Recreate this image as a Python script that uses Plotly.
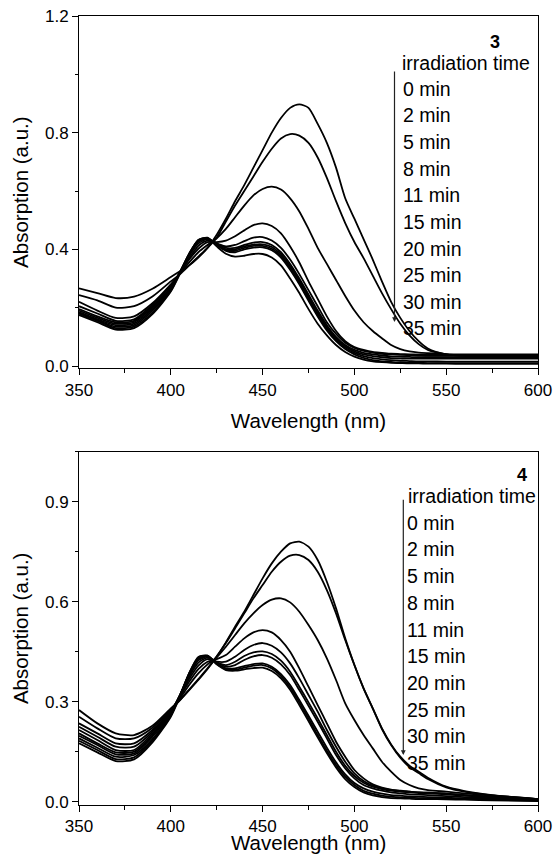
import plotly.graph_objects as go

# ---------------- data ----------------
wavelength = [350, 360, 370, 380, 390, 400, 405, 410, 415, 420, 425, 430, 435, 440, 445,
              450, 455, 460, 465, 470, 475, 480, 485, 490, 495, 500, 505, 510, 515, 520,
              525, 530, 535, 540, 550, 560, 575, 600]

time_labels = ["0 min", "2 min", "5 min", "8 min", "11 min", "15 min",
               "20 min", "25 min", "30 min", "35 min"]

# compound 3
c3_0min = [0.266, 0.250, 0.233, 0.238, 0.265, 0.305, 0.325, 0.345, 0.372, 0.405, 0.450, 0.505, 0.565, 0.620, 0.680,
           0.740, 0.800, 0.850, 0.885, 0.897, 0.885, 0.830, 0.765, 0.680, 0.575, 0.505, 0.435, 0.365, 0.290, 0.220,
           0.165, 0.120, 0.085, 0.060, 0.040, 0.035, 0.035, 0.035]
c3_2min = [0.243, 0.225, 0.200, 0.205, 0.238, 0.290, 0.315, 0.345, 0.375, 0.405, 0.440, 0.495, 0.550, 0.600, 0.650,
           0.700, 0.745, 0.780, 0.795, 0.790, 0.765, 0.715, 0.645, 0.565, 0.490, 0.425, 0.370, 0.310, 0.250, 0.195,
           0.145, 0.105, 0.075, 0.055, 0.040, 0.035, 0.033, 0.030]
c3_5min = [0.220, 0.190, 0.165, 0.170, 0.215, 0.280, 0.318, 0.355, 0.390, 0.415, 0.438, 0.470, 0.510, 0.550, 0.585,
           0.607, 0.615, 0.605, 0.575, 0.530, 0.470, 0.405, 0.350, 0.295, 0.240, 0.190, 0.150, 0.120, 0.095, 0.072,
           0.058, 0.050, 0.046, 0.044, 0.041, 0.040, 0.040, 0.040]
c3_8min = [0.205, 0.180, 0.155, 0.160, 0.210, 0.275, 0.320, 0.365, 0.402, 0.425, 0.425, 0.430, 0.445, 0.465, 0.483,
           0.489, 0.480, 0.455, 0.410, 0.355, 0.290, 0.230, 0.170, 0.120, 0.085, 0.065, 0.055, 0.048, 0.045, 0.042,
           0.041, 0.040, 0.039, 0.038, 0.038, 0.038, 0.038, 0.038]
c3_11min = [0.195, 0.170, 0.150, 0.155, 0.205, 0.270, 0.320, 0.370, 0.412, 0.430, 0.420, 0.410, 0.415, 0.428, 0.440,
            0.442, 0.430, 0.405, 0.365, 0.315, 0.260, 0.205, 0.150, 0.110, 0.080, 0.062, 0.052, 0.046, 0.042, 0.040,
            0.038, 0.037, 0.036, 0.035, 0.035, 0.035, 0.035, 0.035]
c3_15min = [0.190, 0.165, 0.145, 0.150, 0.200, 0.268, 0.322, 0.378, 0.420, 0.435, 0.420, 0.405, 0.405, 0.415, 0.423,
            0.425, 0.415, 0.390, 0.350, 0.300, 0.245, 0.190, 0.140, 0.100, 0.072, 0.055, 0.045, 0.040, 0.036, 0.033,
            0.032, 0.031, 0.030, 0.030, 0.030, 0.030, 0.030, 0.030]
c3_20min = [0.185, 0.160, 0.140, 0.145, 0.195, 0.265, 0.322, 0.382, 0.426, 0.437, 0.418, 0.400, 0.400, 0.410, 0.416,
            0.417, 0.408, 0.383, 0.343, 0.293, 0.237, 0.183, 0.133, 0.095, 0.068, 0.050, 0.040, 0.034, 0.030, 0.027,
            0.026, 0.025, 0.025, 0.025, 0.025, 0.025, 0.025, 0.025]
c3_25min = [0.182, 0.157, 0.135, 0.140, 0.190, 0.262, 0.322, 0.385, 0.430, 0.438, 0.415, 0.397, 0.395, 0.405, 0.412,
            0.412, 0.402, 0.377, 0.337, 0.287, 0.231, 0.177, 0.128, 0.090, 0.063, 0.045, 0.034, 0.027, 0.023, 0.020,
            0.018, 0.017, 0.016, 0.016, 0.015, 0.015, 0.015, 0.015]
c3_30min = [0.180, 0.155, 0.130, 0.135, 0.183, 0.258, 0.320, 0.385, 0.432, 0.440, 0.415, 0.395, 0.390, 0.400, 0.406,
            0.407, 0.397, 0.372, 0.330, 0.280, 0.224, 0.170, 0.122, 0.085, 0.058, 0.040, 0.028, 0.020, 0.016, 0.014,
            0.012, 0.011, 0.011, 0.010, 0.010, 0.010, 0.010, 0.010]
c3_35min = [0.175, 0.150, 0.125, 0.130, 0.178, 0.255, 0.316, 0.382, 0.432, 0.438, 0.410, 0.385, 0.375, 0.378, 0.384,
            0.384, 0.372, 0.345, 0.300, 0.250, 0.195, 0.145, 0.105, 0.072, 0.048, 0.032, 0.022, 0.016, 0.013, 0.011,
            0.010, 0.009, 0.009, 0.008, 0.008, 0.007, 0.007, 0.007]

# compound 4
c4_0min = [0.275, 0.235, 0.205, 0.200, 0.228, 0.280, 0.305, 0.335, 0.365, 0.398, 0.435, 0.478, 0.525, 0.570, 0.620,
           0.670, 0.715, 0.750, 0.775, 0.780, 0.765, 0.725, 0.660, 0.580, 0.490, 0.410, 0.340, 0.280, 0.220, 0.172,
           0.135, 0.108, 0.090, 0.072, 0.045, 0.032, 0.020, 0.008]
c4_2min = [0.255, 0.220, 0.190, 0.190, 0.222, 0.276, 0.305, 0.336, 0.368, 0.400, 0.436, 0.476, 0.520, 0.565, 0.610,
           0.650, 0.690, 0.720, 0.738, 0.740, 0.725, 0.690, 0.635, 0.565, 0.485, 0.410, 0.340, 0.280, 0.218, 0.170,
           0.132, 0.104, 0.086, 0.068, 0.043, 0.030, 0.019, 0.008]
c4_5min = [0.235, 0.205, 0.175, 0.175, 0.215, 0.273, 0.310, 0.350, 0.385, 0.412, 0.433, 0.465, 0.500, 0.535, 0.565,
           0.590, 0.606, 0.610, 0.598, 0.570, 0.530, 0.485, 0.430, 0.365, 0.295, 0.245, 0.200, 0.160, 0.120, 0.090,
           0.065, 0.050, 0.040, 0.035, 0.030, 0.025, 0.018, 0.008]
c4_8min = [0.225, 0.195, 0.165, 0.165, 0.210, 0.272, 0.315, 0.360, 0.398, 0.420, 0.428, 0.440, 0.465, 0.490, 0.508,
           0.515, 0.508, 0.485, 0.450, 0.400, 0.345, 0.290, 0.235, 0.180, 0.135, 0.095, 0.070, 0.052, 0.042, 0.036,
           0.033, 0.030, 0.028, 0.027, 0.024, 0.020, 0.015, 0.007]
c4_11min = [0.215, 0.185, 0.155, 0.155, 0.205, 0.270, 0.318, 0.368, 0.408, 0.428, 0.420, 0.420, 0.435, 0.455, 0.470,
            0.476, 0.468, 0.448, 0.415, 0.370, 0.320, 0.270, 0.215, 0.165, 0.120, 0.085, 0.062, 0.048, 0.040, 0.035,
            0.032, 0.030, 0.028, 0.027, 0.024, 0.020, 0.014, 0.006]
c4_15min = [0.205, 0.175, 0.148, 0.150, 0.200, 0.268, 0.320, 0.375, 0.417, 0.432, 0.418, 0.410, 0.420, 0.437, 0.448,
            0.451, 0.443, 0.423, 0.390, 0.345, 0.298, 0.250, 0.200, 0.150, 0.108, 0.077, 0.057, 0.045, 0.038, 0.033,
            0.030, 0.028, 0.026, 0.025, 0.022, 0.018, 0.013, 0.006]
c4_20min = [0.198, 0.170, 0.142, 0.145, 0.195, 0.265, 0.320, 0.380, 0.424, 0.435, 0.418, 0.405, 0.410, 0.425, 0.436,
            0.440, 0.432, 0.412, 0.380, 0.335, 0.288, 0.240, 0.190, 0.140, 0.100, 0.070, 0.050, 0.040, 0.033, 0.028,
            0.025, 0.022, 0.021, 0.020, 0.017, 0.014, 0.010, 0.005]
c4_25min = [0.190, 0.162, 0.135, 0.140, 0.188, 0.262, 0.320, 0.384, 0.428, 0.437, 0.415, 0.400, 0.400, 0.407, 0.413,
            0.415, 0.405, 0.383, 0.350, 0.305, 0.258, 0.210, 0.162, 0.118, 0.082, 0.056, 0.040, 0.030, 0.024, 0.020,
            0.018, 0.016, 0.015, 0.014, 0.012, 0.010, 0.008, 0.004]
c4_30min = [0.183, 0.155, 0.128, 0.133, 0.183, 0.258, 0.318, 0.386, 0.432, 0.438, 0.413, 0.398, 0.396, 0.402, 0.408,
            0.410, 0.400, 0.377, 0.343, 0.298, 0.250, 0.200, 0.153, 0.110, 0.075, 0.050, 0.033, 0.024, 0.018, 0.015,
            0.013, 0.012, 0.011, 0.010, 0.009, 0.008, 0.006, 0.003]
c4_35min = [0.175, 0.148, 0.122, 0.127, 0.178, 0.255, 0.316, 0.385, 0.434, 0.438, 0.412, 0.395, 0.393, 0.397, 0.401,
            0.402, 0.392, 0.370, 0.336, 0.290, 0.242, 0.193, 0.146, 0.103, 0.068, 0.044, 0.028, 0.019, 0.014, 0.011,
            0.010, 0.009, 0.008, 0.008, 0.007, 0.006, 0.004, 0.002]

series3 = [c3_0min, c3_2min, c3_5min, c3_8min, c3_11min, c3_15min, c3_20min, c3_25min, c3_30min, c3_35min]
series4 = [c4_0min, c4_2min, c4_5min, c4_8min, c4_11min, c4_15min, c4_20min, c4_25min, c4_30min, c4_35min]

x_ticks = [350, 400, 450, 500, 550, 600]
y_ticks_top = [0.0, 0.4, 0.8, 1.2]
y_ticks_bottom = [0.0, 0.3, 0.6, 0.9]

# ---------------- layout geometry (pixels) ----------------
W, H = 555, 855
ML, MR, MT, MB = 79, 17, 16, 50
PW, PH = W - ML - MR, H - MT - MB


def px_x(px):
    return (px - ML) / PW


def px_y(py):
    return (H - MB - py) / PH


FONT = "Arial, Liberation Sans, Helvetica, sans-serif"
TITLE_SIZE = 20.5

fig = go.Figure()
for ys in series3:
    fig.add_trace(go.Scatter(x=wavelength, y=ys, mode="lines", xaxis="x", yaxis="y",
                             line=dict(color="black", width=1.8, shape="spline", smoothing=0.7),
                             showlegend=False, hoverinfo="skip"))
for ys in series4:
    fig.add_trace(go.Scatter(x=wavelength, y=ys, mode="lines", xaxis="x2", yaxis="y2",
                             line=dict(color="black", width=1.8, shape="spline", smoothing=0.7),
                             showlegend=False, hoverinfo="skip"))

axis_common = dict(showline=True, linecolor="black", linewidth=1, mirror=True,
                   ticks="outside", ticklen=6, tickwidth=1, tickcolor="black",
                   showgrid=False, zeroline=False, automargin=False,
                   tickfont=dict(family=FONT, size=17, color="black"))

xaxis_common = dict(axis_common, range=[350, 600], tickvals=x_ticks,
                    minor=dict(dtick=25, tick0=350, ticklen=3.5, ticks="outside", tickcolor="black", showgrid=False))

top_dom = [px_y(368.3), 1.0]
bot_dom = [0.0, px_y(451.7)]

fig.update_layout(
    width=W, height=H,
    margin=dict(l=ML, r=MR, t=MT, b=MB, pad=0, autoexpand=False),
    paper_bgcolor="white", plot_bgcolor="white",
    font=dict(family=FONT, color="black"),
    xaxis=dict(xaxis_common, domain=[0, 1], anchor="y",
               title=dict(text="Wavelength (nm)", font=dict(family=FONT, size=TITLE_SIZE), standoff=14)),
    yaxis=dict(axis_common, domain=top_dom, anchor="x", range=[-0.0079, 1.2],
               tickvals=y_ticks_top, ticktext=[f"{v:.1f}" for v in y_ticks_top],
               minor=dict(dtick=0.2, tick0=0, ticklen=3.5, ticks="outside", tickcolor="black", showgrid=False),
               title=dict(text="Absorption (a.u.)", font=dict(family=FONT, size=TITLE_SIZE), standoff=10)),
    xaxis2=dict(xaxis_common, domain=[0, 1], anchor="y2"),
    yaxis2=dict(axis_common, domain=bot_dom, anchor="x2", range=[-0.0099, 1.05],
                tickvals=y_ticks_bottom, ticktext=[f"{v:.1f}" for v in y_ticks_bottom],
                minor=dict(dtick=0.15, tick0=0, ticklen=3.5, ticks="outside", tickcolor="black", showgrid=False),
                title=dict(text="Absorption (a.u.)", font=dict(family=FONT, size=TITLE_SIZE), standoff=10)),
)

annotations = []
LEG = 19.5

# bottom x-axis title, placed just under the tick labels near the page edge as in the reference
annotations.append(dict(text="Wavelength (nm)", x=0.5, y=px_y(842.5), xref="paper", yref="paper",
                        xanchor="center", yanchor="middle", showarrow=False, borderpad=0,
                        font=dict(family=FONT, size=TITLE_SIZE, color="black")))


def add_panel_labels(num, num_x, num_y, head_x, head_y, first_x, first_y, step, arrow_x, arrow_top, arrow_tip):
    annotations.append(dict(text=f"<b>{num}</b>", x=px_x(num_x), y=px_y(num_y), xref="paper", yref="paper",
                            xanchor="center", yanchor="middle", showarrow=False, borderpad=0,
                            font=dict(family=FONT, size=18, color="black")))
    annotations.append(dict(text="irradiation time", x=px_x(head_x), y=px_y(head_y), xref="paper", yref="paper",
                            xanchor="left", yanchor="middle", showarrow=False, borderpad=0,
                            font=dict(family=FONT, size=LEG, color="black")))
    for i, lab in enumerate(time_labels):
        annotations.append(dict(text=lab, x=px_x(first_x), y=px_y(first_y + i * step), xref="paper", yref="paper",
                                xanchor="left", yanchor="middle", showarrow=False, borderpad=0,
                                font=dict(family=FONT, size=LEG, color="black")))
    annotations.append(dict(text="", x=px_x(arrow_x), y=px_y(arrow_tip), xref="paper", yref="paper",
                            ax=0, ay=-(arrow_tip - arrow_top), axref="pixel", ayref="pixel",
                            showarrow=True, arrowhead=2, arrowsize=0.8, arrowwidth=1.2, arrowcolor="#222"))


add_panel_labels("3", 495.3, 42.0, 400.5, 63.3, 402.0, 88.6, 26.65, 394.5, 70, 322)
add_panel_labels("4", 521.7, 475.0, 407.0, 495.5, 405.5, 522.7, 26.7, 403.3, 498.3, 755)

fig.update_layout(annotations=annotations)

fig.write_html("out.html")
